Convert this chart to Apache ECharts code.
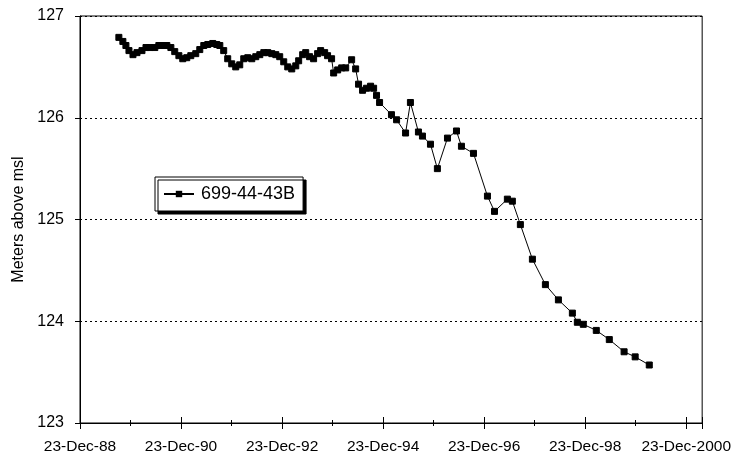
<!DOCTYPE html>
<html>
<head>
<meta charset="utf-8">
<script src="https://cdn.jsdelivr.net/npm/echarts@6/dist/echarts.min.js"></script>
<style>html,body{margin:0;padding:0;background:#fff}#c{width:734px;height:460px}</style>
</head>
<body>
<div id="c"></div>
<script>
var seriesName = '699-44-43B';
var dates = [
'1989-09-30','1989-10-29','1989-11-20','1989-12-12','1990-01-10','1990-02-08','1990-03-16','1990-04-14','1990-05-12','1990-06-17',
'1990-07-16','1990-08-14','1990-09-12','1990-10-11','1990-11-08','1990-12-08','1991-01-05','1991-02-03','1991-03-04','1991-04-09',
'1991-05-08','1991-06-06','1991-07-05','1991-08-10','1991-09-08','1991-09-30','1991-10-28','1991-11-26','1991-12-25','1992-01-23',
'1992-02-21','1992-03-21','1992-04-19','1992-05-18','1992-06-16','1992-07-15','1992-08-13','1992-09-11','1992-10-10','1992-11-08',
'1992-12-06','1993-01-04','1993-02-02','1993-03-03','1993-04-01','1993-04-22','1993-05-21','1993-06-12','1993-07-10','1993-08-08',
'1993-09-06','1993-09-28','1993-10-27','1993-11-17','1993-12-16','1993-12-31','1994-01-29','1994-02-27','1994-03-28','1994-05-10',
'1994-06-08','1994-06-29','1994-07-28','1994-08-26','1994-09-24','1994-10-16','1994-11-06','1994-11-28','1995-02-22','1995-03-31',
'1995-06-04','1995-07-09','1995-09-05','1995-10-04','1995-12-01','1996-01-20','1996-04-02','1996-06-06','1996-07-12','1996-10-07',
'1997-01-16','1997-03-08','1997-06-09','1997-07-15','1997-09-11','1997-12-07','1998-03-11','1998-06-13','1998-09-22','1998-10-28',
'1998-12-10','1999-03-14','1999-06-16','1999-10-01','1999-12-20','2000-03-31'
];
var levels = [
126.79,126.75,126.71,126.66,126.62,126.64,126.66,126.69,126.69,126.69,
126.71,126.71,126.71,126.69,126.65,126.61,126.58,126.59,126.61,126.63,
126.67,126.71,126.72,126.73,126.72,126.71,126.66,126.58,126.53,126.50,
126.52,126.58,126.59,126.58,126.60,126.62,126.64,126.64,126.63,126.62,
126.60,126.55,126.50,126.48,126.51,126.56,126.62,126.64,126.60,126.58,
126.63,126.66,126.64,126.61,126.58,126.44,126.47,126.49,126.49,126.57,
126.48,126.33,126.27,126.29,126.31,126.29,126.22,126.15,126.03,125.98,
125.85,126.15,125.86,125.82,125.74,125.50,125.80,125.87,125.72,125.65,
125.23,125.08,125.20,125.18,124.95,124.61,124.36,124.21,124.08,123.99,
123.97,123.91,123.82,123.70,123.65,123.57
];
var tickLabels = ['23-Dec-88','23-Dec-90','23-Dec-92','23-Dec-94','23-Dec-96','23-Dec-98','23-Dec-2000'];
var yTicks = [123,124,125,126,127];
var yTitle = 'Meters above msl';

var BASE = Date.UTC(1988,11,23);
var YEAR = 365.25*86400000;
function yrs(d){ return (Date.parse(d+'T00:00:00Z') - BASE)/YEAR; }
var data = dates.map(function(d,i){ return [yrs(d), levels[i]]; });

var FONT = '"Liberation Sans", Arial, sans-serif';
var XMAX = 12.316;
function xAx(interval, inside, len, labels, line){
  return {
    type:'value', min:0, max:XMAX, interval:interval, position:'bottom',
    axisLine:{show:line, lineStyle:{color:'#000', width:1}},
    axisTick:{show:true, inside:inside, length:len, lineStyle:{color:'#000', width:1}},
    axisLabel:{show:labels, margin:16, color:'#000', fontFamily:FONT, fontSize:15.5,
      formatter:function(v){ var k=Math.round(v); if(Math.abs(v-k)>1e-6||k%2) return ''; return tickLabels[k/2]||''; }},
    splitLine:{show:false}
  };
}
var chart = echarts.init(document.getElementById('c'), null, {renderer:'canvas'});
chart.setOption({
  animation:false,
  backgroundColor:'#fff',
  grid:{left:80, right:31, top:16, bottom:37, show:true, borderColor:'#000', borderWidth:1, backgroundColor:'transparent'},
  legend:{
    data:[seriesName], left:155, top:177, orient:'horizontal',
    padding:[8,8,8,8], itemWidth:30, itemHeight:8, itemGap:0,
    borderColor:'#000', borderWidth:1, backgroundColor:'#fff',
    shadowColor:'#000', shadowOffsetX:3, shadowOffsetY:3, shadowBlur:0.01,
    textStyle:{color:'#000', fontFamily:FONT, fontSize:18, padding:[0,0,0,2]}
  },
  xAxis:[
    xAx(2,false,6,true,true),
    xAx(2,true,6,false,false),
    xAx(1,false,3,false,false),
    xAx(1,true,3,false,false)
  ],
  yAxis:{
    type:'value', min:yTicks[0], max:yTicks[yTicks.length-1], interval:1,
    name:yTitle, nameLocation:'middle', nameGap:52,
    nameTextStyle:{color:'#000', fontFamily:FONT, fontSize:16},
    axisLine:{show:true, lineStyle:{color:'#000'}},
    axisTick:{show:true, length:5, lineStyle:{color:'#000'}},
    axisLabel:{margin:16, color:'#000', fontFamily:FONT, fontSize:16},
    splitLine:{show:true, lineStyle:{color:'#000', type:[2,3], width:1}}
  },
  series:[{
    name:seriesName, type:'line', xAxisIndex:0, data:data,
    symbol:'rect', symbolSize:6, showSymbol:true,
    lineStyle:{color:'#000', width:1},
    itemStyle:{color:'#000', borderColor:'#000'}
  }]
});
</script>
</body>
</html>
